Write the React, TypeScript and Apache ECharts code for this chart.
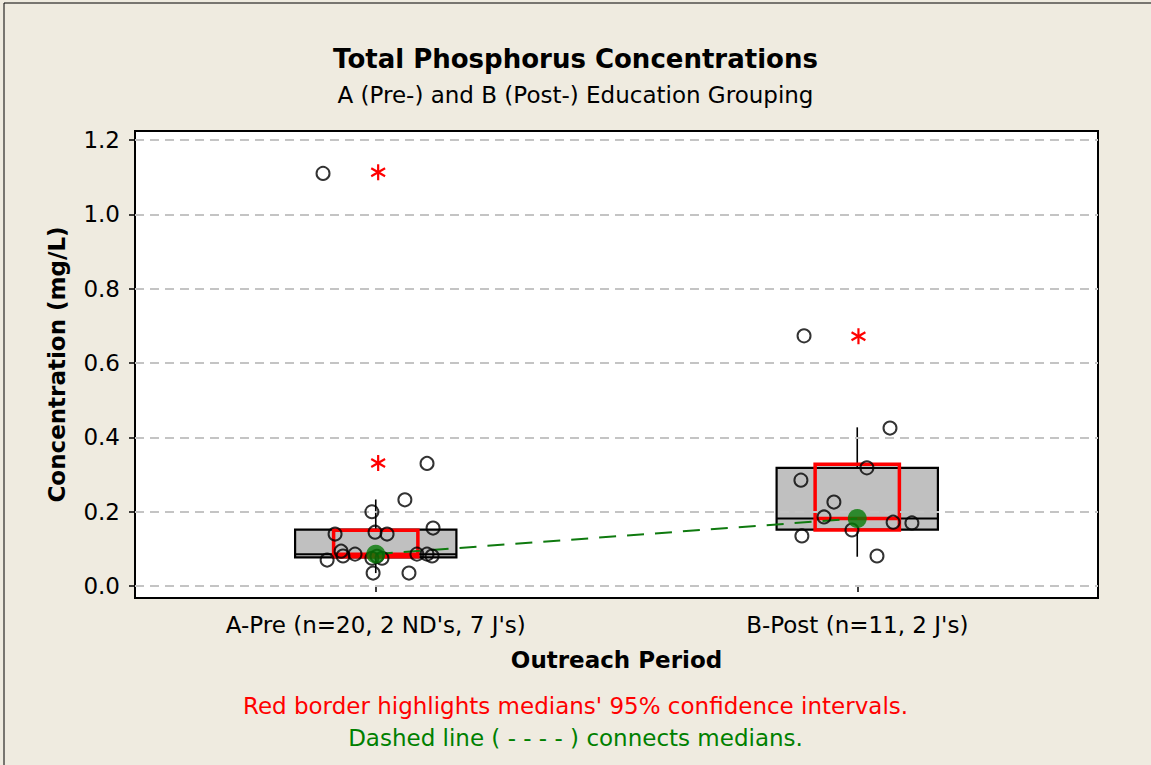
import React, { useEffect, useRef } from "react";
import * as echarts from "echarts";

// ---- data ----
const categories = ["A-Pre (n=20, 2 ND's, 7 J's)", "B-Post (n=11, 2 J's)"];
const categoryPositions = [1, 3];
const yTicks = [0, 0.2, 0.4, 0.6, 0.8, 1.0, 1.2];

const whiskerLow = [0.035, 0.079];
const q1 = [0.077, 0.152];
const median = [0.086, 0.182];
const q3 = [0.152, 0.318];
const whiskerHigh = [0.233, 0.427];
const ciLow = [0.079, 0.151];
const ciHigh = [0.15, 0.328];

const outlierX = [1.01, 1.01, 3.005];
const outlierY = [1.113, 0.331, 0.672];

// jittered individual observations (x position, value)
const aX = [0.781, 1.213, 1.121, 0.984, 0.831, 0.997, 1.047, 1.238, 0.798, 0.856, 0.864, 0.914, 0.984, 1.026, 1.171, 1.213, 1.234, 0.989, 1.138, 1.005];
const aY = [1.11, 0.33, 0.232, 0.2, 0.14, 0.145, 0.14, 0.156, 0.07, 0.094, 0.081, 0.086, 0.075, 0.075, 0.086, 0.086, 0.081, 0.035, 0.035, 0.08];
const bX = [2.779, 3.136, 3.04, 2.766, 2.903, 2.862, 3.149, 3.227, 2.978, 2.77, 3.082];
const bY = [0.673, 0.425, 0.318, 0.285, 0.226, 0.186, 0.172, 0.17, 0.151, 0.135, 0.081];

export default function App() {
  const ref = useRef<HTMLDivElement>(null);
  useEffect(() => {
    const chart = echarts.init(ref.current!, null, { renderer: "svg" });
    const font = "DejaVu Sans";
    const boxHalf = 0.335;
    const ciHalf = 0.175;

    const boxData = categoryPositions.map((p, i) => [p, whiskerLow[i], q1[i], median[i], q3[i], whiskerHigh[i]]);
    const ciData = categoryPositions.map((p, i) => [p, ciLow[i], median[i], ciHigh[i]]);
    const points = [
      ...aX.map((x, i) => [x, aY[i]]),
      ...bX.map((x, i) => [x, bY[i]]),
    ];
    const outliers = outlierX.map((x, i) => [x, outlierY[i]]);
    const medians = categoryPositions.map((p, i) => [p, median[i]]);

    const option: any = {
      animation: false,
      backgroundColor: "#efebe0",
      textStyle: { fontFamily: font },
      title: [
        {
          text: "Total Phosphorus Concentrations",
          left: "center",
          top: 41,
          textStyle: { fontSize: 26, fontWeight: "bold", color: "#000", fontFamily: font },
        },
        {
          text: "A (Pre-) and B (Post-) Education Grouping",
          left: "center",
          top: 78,
          textStyle: { fontSize: 23, fontWeight: "normal", color: "#000", fontFamily: font },
        },
        {
          text: "Red border highlights medians' 95% confidence intervals.",
          left: "center",
          top: 689,
          textStyle: { fontSize: 23, fontWeight: "normal", color: "#ff0000", fontFamily: font },
        },
        {
          text: "Dashed line ( - - - - ) connects medians.",
          left: "center",
          top: 721,
          textStyle: { fontSize: 23, fontWeight: "normal", color: "#008000", fontFamily: font },
        },
      ],
      graphic: [
        {
          type: "rect",
          shape: { x: 4, y: 3, width: 1200, height: 800 },
          style: { fill: "none", stroke: "#000", lineWidth: 1 },
          silent: true,
        },
      ],
      grid: {
        left: 135,
        top: 131,
        width: 963,
        height: 467,
        show: true,
        backgroundColor: "#fff",
        borderColor: "#000",
        borderWidth: 2,
      },
      xAxis: {
        type: "value",
        min: 0,
        max: 4,
        axisLine: { show: false },
        splitLine: { show: false },
        axisTick: {
          show: true,
          customValues: categoryPositions,
          length: 6,
          lineStyle: { color: "#000", width: 1.5 },
        },
        axisLabel: {
          customValues: categoryPositions,
          formatter: (v: number) => categories[categoryPositions.indexOf(v)] ?? "",
          fontSize: 23,
          color: "#000",
          margin: 15,
          fontFamily: font,
        },
        name: "Outreach Period",
        nameLocation: "middle",
        nameGap: 50,
        nameTextStyle: { fontSize: 23, fontWeight: "bold", color: "#000", fontFamily: font },
      },
      yAxis: {
        type: "value",
        min: -0.032,
        max: 1.224,
        axisLine: { show: false },
        splitLine: { show: false },
        axisTick: {
          show: true,
          customValues: yTicks,
          length: 6,
          lineStyle: { color: "#000", width: 1.5 },
        },
        axisLabel: {
          customValues: yTicks,
          formatter: (v: number) => v.toFixed(1),
          fontSize: 23,
          color: "#000",
          margin: 15,
          fontFamily: font,
        },
        name: "Concentration (mg/L)",
        nameLocation: "middle",
        nameGap: 67,
        nameTextStyle: { fontSize: 23, fontWeight: "bold", color: "#000", fontFamily: font },
      },
      series: [
        {
          type: "line",
          data: [],
          z: 1,
          markLine: {
            silent: true,
            symbol: "none",
            label: { show: false },
            lineStyle: { color: "#c4c4c4", type: [9, 6], width: 2 },
            data: yTicks.map((v) => ({ yAxis: v })),
          },
        },
        {
          type: "custom",
          z: 2,
          data: boxData,
          encode: { x: 0, y: [1, 2, 3, 4, 5] },
          renderItem: (params: any, api: any) => {
            const x = api.value(0);
            const tl = api.coord([x - boxHalf, api.value(4)]);
            const br = api.coord([x + boxHalf, api.value(2)]);
            const mL = api.coord([x - boxHalf, api.value(3)]);
            const mR = api.coord([x + boxHalf, api.value(3)]);
            const top = api.coord([x, api.value(4)]);
            const wh = api.coord([x, api.value(5)]);
            const bot = api.coord([x, api.value(2)]);
            const wl = api.coord([x, api.value(1)]);
            const ls = { stroke: "#000", lineWidth: 1.6 };
            return {
              type: "group",
              children: [
                { type: "line", shape: { x1: top[0], y1: top[1], x2: wh[0], y2: wh[1] }, style: ls },
                { type: "line", shape: { x1: bot[0], y1: bot[1], x2: wl[0], y2: wl[1] }, style: ls },
                {
                  type: "rect",
                  shape: { x: tl[0], y: tl[1], width: br[0] - tl[0], height: br[1] - tl[1] },
                  style: { fill: "#c0c0c0", stroke: "#000", lineWidth: 2.2 },
                },
                { type: "line", shape: { x1: mL[0], y1: mL[1], x2: mR[0], y2: mR[1] }, style: { stroke: "#000", lineWidth: 2 } },
              ],
            };
          },
        },
        {
          type: "custom",
          z: 3,
          data: ciData,
          encode: { x: 0, y: [1, 2, 3] },
          renderItem: (params: any, api: any) => {
            const x = api.value(0);
            const tl = api.coord([x - ciHalf, api.value(3)]);
            const br = api.coord([x + ciHalf, api.value(1)]);
            const mL = api.coord([x - ciHalf, api.value(2)]);
            const mR = api.coord([x + ciHalf, api.value(2)]);
            return {
              type: "group",
              children: [
                {
                  type: "rect",
                  shape: { x: tl[0], y: tl[1], width: br[0] - tl[0], height: br[1] - tl[1] },
                  style: { fill: "none", stroke: "#ff0000", lineWidth: 3.5 },
                },
                { type: "line", shape: { x1: mL[0], y1: mL[1], x2: mR[0], y2: mR[1] }, style: { stroke: "#ff0000", lineWidth: 3.5 } },
              ],
            };
          },
        },
        {
          type: "line",
          z: 4,
          data: medians,
          symbol: "none",
          lineStyle: { color: "#0f7a0f", type: [17, 11], width: 2 },
        },
        {
          type: "scatter",
          z: 5,
          data: points,
          symbol: "circle",
          symbolSize: 13,
          itemStyle: { color: "rgba(0,0,0,0)", borderColor: "#000", borderWidth: 2 },
        },
        {
          type: "scatter",
          z: 6,
          data: medians,
          symbol: "circle",
          symbolSize: 19,
          itemStyle: { color: "#087a08" },
        },
        {
          type: "custom",
          z: 7,
          data: outliers,
          encode: { x: 0, y: 1 },
          renderItem: (params: any, api: any) => {
            const c = api.coord([api.value(0), api.value(1)]);
            const r = 8;
            const angles = [90, 30, 150];
            return {
              type: "group",
              children: angles.map((a) => {
                const rad = (a * Math.PI) / 180;
                const dx = Math.cos(rad) * r;
                const dy = Math.sin(rad) * r;
                return {
                  type: "line",
                  shape: { x1: c[0] - dx, y1: c[1] - dy, x2: c[0] + dx, y2: c[1] + dy },
                  style: { stroke: "#ff0000", lineWidth: 2.2 },
                };
              }),
            };
          },
        },
      ],
    };
    chart.setOption(option);
    return () => chart.dispose();
  }, []);
  return <div ref={ref} style={{ position: "absolute", left: 0, top: 0, width: 1151, height: 765 }} />;
}
